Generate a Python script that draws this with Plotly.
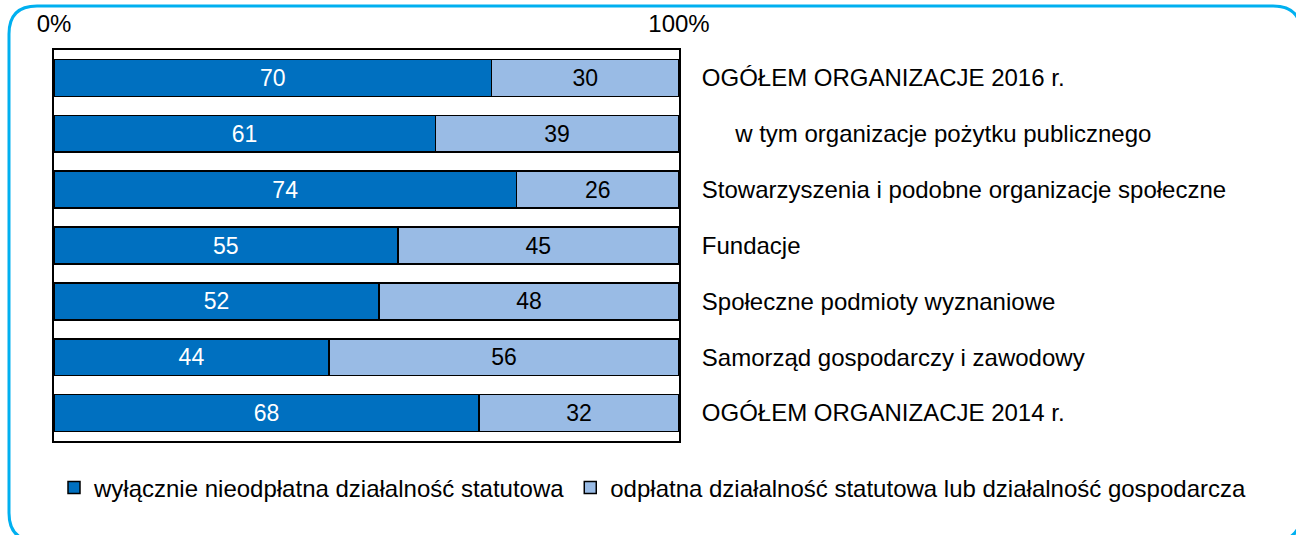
import plotly.graph_objects as go

categories = [
    "OGÓŁEM ORGANIZACJE 2016 r.",
    "\u00a0\u00a0\u00a0\u00a0\u00a0w tym organizacje pożytku publicznego",
    "Stowarzyszenia i podobne organizacje społeczne",
    "Fundacje",
    "Społeczne podmioty wyznaniowe",
    "Samorząd gospodarczy i zawodowy",
    "OGÓŁEM ORGANIZACJE 2014 r.",
]
free_only = [70, 61, 74, 55, 52, 44, 68]
paid_or_business = [30, 39, 26, 45, 48, 56, 32]
series_names = [
    "wyłącznie nieodpłatna działalność statutowa",
    "odpłatna działalność statutowa lub działalność gospodarcza",
]
tick_vals = [0, 100]
tick_text = ["0%", "100%"]

W, H = 1296, 535
# paper area (pixels)
L, R, T, B = 54, 1290, 50, 441
# bar plot right edge (pixels)
PR = 679
FONT = "Liberation Sans, Arial, sans-serif"
FS = 24
FS_VAL = 23

DARK = "#0070C0"
LIGHT = "#99BBE5"
FRAME = "#00B0F0"

fig = go.Figure()
fig.add_trace(go.Bar(
    y=categories, x=free_only, orientation="h", name=series_names[0],
    marker=dict(color=DARK, line=dict(color="black", width=1.5)),
    text=[str(v) for v in free_only], textposition="inside",
    insidetextanchor="middle",
    textfont=dict(color="white", size=FS_VAL, family=FONT),
))
fig.add_trace(go.Bar(
    y=categories, x=paid_or_business, orientation="h", name=series_names[1],
    marker=dict(color=LIGHT, line=dict(color="black", width=1.5)),
    text=[str(v) for v in paid_or_business], textposition="inside",
    insidetextanchor="middle",
    textfont=dict(color="black", size=FS_VAL, family=FONT),
))


def px(x):
    return (x - L) / (R - L)


def py(y):
    return (B - y) / (B - T)


x0, y0, x1, y1, r = 9, 6, 1301, 541, 28
pts = [
    ("M", [(x0, y0 + r)]),
    ("Q", [(x0, y0), (x0 + r, y0)]),
    ("L", [(x1 - r, y0)]),
    ("Q", [(x1, y0), (x1, y0 + r)]),
    ("L", [(x1, y1 - r)]),
    ("Q", [(x1, y1), (x1 - r, y1)]),
    ("L", [(x0 + r, y1)]),
    ("Q", [(x0, y1), (x0, y1 - r)]),
]
path = ""
for cmd, coords in pts:
    path += cmd + " " + " ".join(f"{px(a):.5f},{py(b):.5f}" for a, b in coords) + " "
path += "Z"

fig.add_shape(type="path", xref="paper", yref="paper", path=path,
              line=dict(color=FRAME, width=3), layer="above")

fig.update_layout(
    template="none",
    width=W, height=H,
    barmode="stack", bargap=0.34,
    margin=dict(l=L, r=W - R, t=T, b=H - B, pad=0, autoexpand=False),
    paper_bgcolor="white", plot_bgcolor="white",
    font=dict(family=FONT, size=FS, color="black"),
    uniformtext=dict(minsize=FS_VAL, mode="show"),
    showlegend=True,
    legend=dict(orientation="h", x=px(54), xanchor="left",
                y=py(488), yanchor="middle",
                font=dict(size=FS, family=FONT, color="black"),
                traceorder="normal", itemclick=False, bgcolor="rgba(0,0,0,0)"),
    xaxis=dict(domain=[0, px(PR)], range=[0, 100], side="top",
               tickvals=tick_vals, ticktext=tick_text, automargin=False,
               showgrid=False, zeroline=False, ticks="", ticklabelstandoff=6,
               showline=True, mirror=True, linecolor="black", linewidth=2,
               tickfont=dict(size=FS, family=FONT, color="black")),
    yaxis=dict(autorange="reversed", side="right", showgrid=False, ticks="",
               automargin=False, ticklabelstandoff=16, showline=True, mirror=True,
               linecolor="black", linewidth=2,
               tickfont=dict(size=FS, family=FONT, color="black")),
)

fig.write_html("out.html", config={"displayModeBar": False},
               post_script="document.body.style.margin='0px';")
